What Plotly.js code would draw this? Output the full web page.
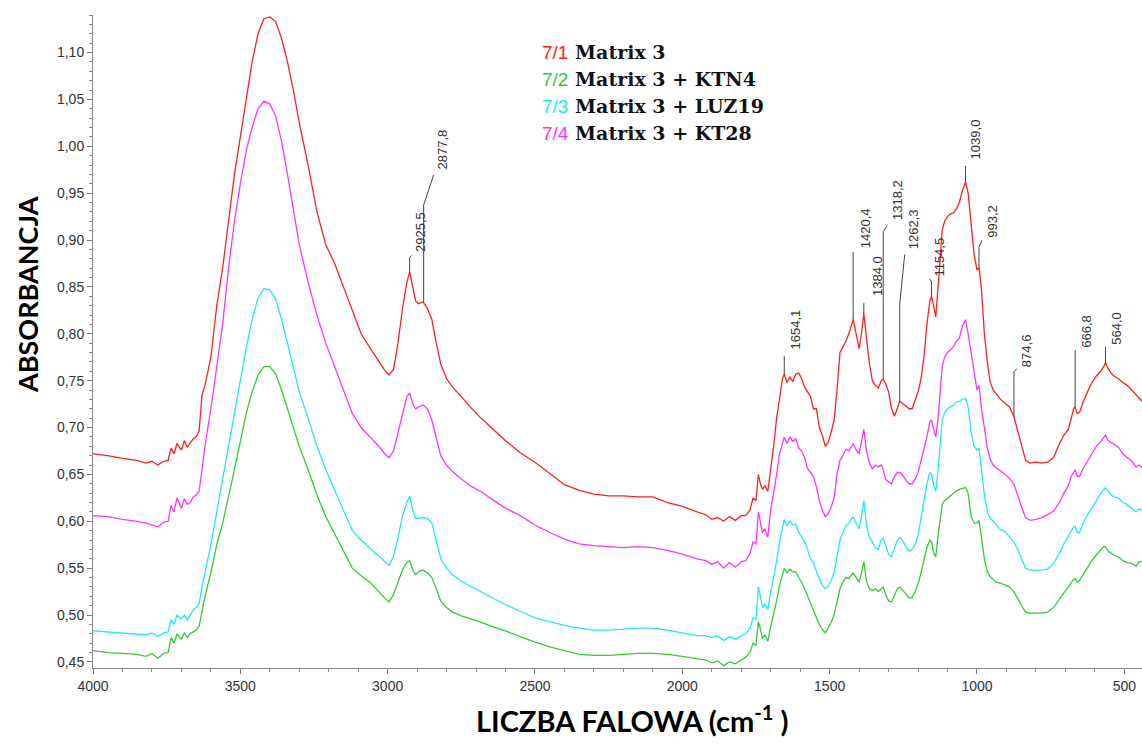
<!DOCTYPE html>
<html><head><meta charset="utf-8">
<script src="https://cdn.plot.ly/plotly-3.0.1.min.js"></script>
<style>html,body{margin:0;padding:0;background:#fff}#chart{width:1142px;height:744px}</style>
</head><body><div id="chart"></div>
<script>
// ---- data (wavenumber in cm-1, absorbance) ----
const wavenumber = [4000,3950,3900,3850,3820,3800,3780,3760,3745,3735,
3725,3715,3700,3690,3680,3670,3660,3650,3640,3630,
3620,3600,3580,3560,3540,3520,3500,3480,3460,3440,
3420,3400,3380,3360,3340,3320,3300,3270,3240,3210,
3180,3150,3120,3090,3060,3030,3010,2995,2980,2965,
2950,2935,2925,2915,2905,2895,2880,2865,2850,2835,
2820,2800,2780,2750,2720,2680,2640,2600,2550,2500,
2450,2400,2350,2300,2250,2200,2150,2100,2050,2000,
1950,1920,1900,1880,1860,1840,1820,1800,1785,1770,
1760,1750,1742,1735,1728,1720,1710,1700,1690,1680,
1670,1660,1654,1645,1635,1625,1615,1605,1595,1585,
1575,1565,1555,1545,1535,1525,1515,1505,1495,1485,
1475,1465,1455,1445,1435,1420,1410,1400,1392,1384,
1375,1365,1355,1345,1335,1325,1318,1310,1300,1290,
1280,1270,1262,1250,1240,1230,1220,1210,1200,1190,
1180,1170,1160,1154,1147,1140,1132,1125,1118,1110,
1100,1090,1080,1070,1060,1050,1039,1030,1020,1010,
1000,993,985,975,965,955,945,935,920,905,
890,875,865,855,845,835,820,800,780,760,
740,720,705,690,680,672,667,660,652,640,
625,610,595,580,570,564,555,545,535,520,
505,490,475,460,450,440];

// 7/1 Matrix 3
const absMatrix3 = [0.672,0.670,0.667,0.665,0.662,0.664,0.660,0.664,0.665,0.678,
0.672,0.683,0.676,0.686,0.679,0.684,0.688,0.690,0.696,0.735,
0.745,0.775,0.830,0.870,0.920,0.970,1.010,1.050,1.090,1.120,
1.136,1.138,1.133,1.115,1.090,1.060,1.025,0.980,0.930,0.895,
0.875,0.850,0.825,0.800,0.785,0.770,0.761,0.756,0.762,0.790,
0.826,0.855,0.866,0.850,0.835,0.832,0.834,0.827,0.815,0.790,
0.768,0.752,0.743,0.733,0.722,0.709,0.697,0.686,0.673,0.663,
0.651,0.639,0.633,0.629,0.627,0.627,0.626,0.626,0.620,0.616,
0.610,0.607,0.602,0.604,0.600,0.605,0.601,0.606,0.606,0.612,
0.625,0.622,0.650,0.640,0.634,0.638,0.632,0.655,0.680,0.710,
0.733,0.752,0.757,0.748,0.754,0.749,0.757,0.758,0.752,0.743,
0.738,0.733,0.720,0.720,0.700,0.692,0.680,0.684,0.695,0.708,
0.740,0.780,0.786,0.792,0.800,0.815,0.800,0.784,0.800,0.822,
0.795,0.768,0.750,0.745,0.742,0.750,0.751,0.747,0.738,0.720,
0.712,0.720,0.728,0.725,0.722,0.720,0.720,0.728,0.738,0.752,
0.775,0.810,0.835,0.840,0.828,0.818,0.850,0.885,0.910,0.920,
0.925,0.928,0.929,0.933,0.940,0.952,0.962,0.950,0.920,0.885,
0.868,0.871,0.848,0.800,0.770,0.748,0.740,0.736,0.730,0.726,
0.722,0.712,0.700,0.688,0.675,0.665,0.662,0.663,0.662,0.663,
0.668,0.683,0.692,0.698,0.710,0.720,0.722,0.715,0.716,0.727,
0.738,0.748,0.755,0.760,0.765,0.769,0.763,0.758,0.755,0.752,
0.748,0.745,0.740,0.735,0.732,0.728];

// 7/2 Matrix 3 + KTN4
const absKTN4 = [0.462,0.460,0.459,0.458,0.456,0.459,0.454,0.459,0.460,0.476,
0.470,0.480,0.474,0.481,0.476,0.480,0.482,0.484,0.488,0.505,
0.520,0.545,0.575,0.598,0.625,0.655,0.685,0.715,0.738,0.756,
0.765,0.765,0.757,0.740,0.720,0.700,0.680,0.655,0.628,0.605,
0.587,0.568,0.550,0.542,0.535,0.525,0.518,0.514,0.522,0.535,
0.548,0.556,0.558,0.548,0.543,0.546,0.548,0.545,0.540,0.528,
0.515,0.508,0.503,0.499,0.496,0.492,0.487,0.483,0.477,0.471,
0.466,0.462,0.458,0.457,0.457,0.458,0.459,0.459,0.458,0.456,
0.453,0.452,0.449,0.451,0.446,0.450,0.448,0.452,0.455,0.460,
0.470,0.468,0.493,0.485,0.475,0.479,0.472,0.488,0.500,0.515,
0.532,0.545,0.550,0.545,0.549,0.546,0.546,0.540,0.535,0.528,
0.520,0.512,0.506,0.498,0.490,0.485,0.481,0.486,0.492,0.500,
0.515,0.528,0.535,0.540,0.539,0.545,0.540,0.535,0.545,0.557,
0.536,0.528,0.526,0.528,0.525,0.528,0.530,0.522,0.515,0.514,
0.522,0.528,0.530,0.526,0.522,0.518,0.519,0.525,0.533,0.545,
0.560,0.572,0.580,0.578,0.566,0.562,0.585,0.605,0.618,0.622,
0.625,0.627,0.630,0.632,0.634,0.635,0.636,0.630,0.605,0.598,
0.598,0.601,0.585,0.560,0.546,0.541,0.538,0.535,0.534,0.532,
0.530,0.525,0.520,0.514,0.508,0.503,0.502,0.502,0.502,0.503,
0.508,0.517,0.524,0.530,0.535,0.538,0.539,0.535,0.537,0.543,
0.551,0.558,0.564,0.570,0.573,0.573,0.568,0.566,0.564,0.562,
0.558,0.556,0.555,0.552,0.557,0.557];

// 7/3 Matrix 3 + LUZ19
const absLUZ19 = [0.483,0.482,0.481,0.480,0.479,0.481,0.477,0.481,0.482,0.495,
0.490,0.500,0.496,0.500,0.495,0.500,0.505,0.508,0.512,0.530,
0.545,0.575,0.610,0.645,0.680,0.715,0.750,0.785,0.815,0.838,
0.848,0.847,0.837,0.815,0.790,0.765,0.738,0.710,0.680,0.655,
0.633,0.612,0.590,0.580,0.572,0.563,0.557,0.553,0.563,0.582,
0.605,0.620,0.627,0.612,0.603,0.603,0.604,0.603,0.598,0.578,
0.560,0.550,0.543,0.536,0.531,0.525,0.518,0.511,0.504,0.497,
0.493,0.489,0.486,0.484,0.484,0.485,0.486,0.486,0.484,0.481,
0.478,0.478,0.476,0.478,0.473,0.477,0.474,0.478,0.480,0.486,
0.497,0.496,0.530,0.520,0.508,0.512,0.506,0.524,0.540,0.558,
0.578,0.595,0.602,0.595,0.600,0.596,0.597,0.588,0.583,0.578,
0.570,0.560,0.556,0.547,0.538,0.532,0.528,0.531,0.537,0.545,
0.565,0.580,0.588,0.595,0.598,0.605,0.598,0.592,0.605,0.622,
0.595,0.583,0.578,0.572,0.570,0.580,0.582,0.575,0.565,0.562,
0.572,0.580,0.583,0.578,0.572,0.568,0.570,0.575,0.585,0.602,
0.620,0.640,0.652,0.650,0.638,0.632,0.655,0.685,0.708,0.716,
0.720,0.722,0.724,0.727,0.728,0.730,0.731,0.722,0.695,0.680,
0.676,0.678,0.655,0.628,0.610,0.603,0.600,0.596,0.591,0.589,
0.583,0.578,0.572,0.565,0.557,0.550,0.548,0.548,0.548,0.549,
0.555,0.566,0.576,0.584,0.590,0.594,0.595,0.588,0.588,0.598,
0.607,0.614,0.622,0.630,0.634,0.636,0.632,0.628,0.626,0.625,
0.620,0.618,0.614,0.610,0.613,0.612];

// 7/4 Matrix 3 + KT28
const absKT28 = [0.606,0.605,0.602,0.600,0.598,0.596,0.594,0.599,0.600,0.617,
0.610,0.625,0.614,0.624,0.618,0.620,0.626,0.628,0.632,0.655,
0.680,0.720,0.765,0.810,0.870,0.920,0.960,0.995,1.020,1.040,
1.048,1.045,1.032,1.005,0.970,0.930,0.895,0.855,0.820,0.790,
0.766,0.740,0.715,0.700,0.690,0.680,0.672,0.668,0.675,0.695,
0.715,0.733,0.737,0.725,0.720,0.722,0.724,0.720,0.708,0.688,
0.670,0.660,0.653,0.645,0.638,0.631,0.622,0.614,0.606,0.596,
0.588,0.581,0.576,0.574,0.573,0.572,0.573,0.572,0.569,0.565,
0.560,0.558,0.554,0.557,0.550,0.556,0.551,0.557,0.558,0.566,
0.578,0.576,0.610,0.598,0.588,0.592,0.583,0.612,0.630,0.650,
0.672,0.685,0.690,0.683,0.690,0.685,0.688,0.678,0.675,0.668,
0.656,0.652,0.648,0.637,0.622,0.612,0.605,0.608,0.615,0.625,
0.650,0.665,0.670,0.677,0.675,0.683,0.676,0.672,0.685,0.698,
0.675,0.662,0.656,0.660,0.658,0.660,0.655,0.645,0.642,0.640,
0.648,0.652,0.652,0.648,0.643,0.640,0.640,0.645,0.652,0.665,
0.675,0.690,0.706,0.708,0.698,0.690,0.710,0.740,0.765,0.775,
0.780,0.783,0.786,0.792,0.795,0.808,0.815,0.800,0.780,0.755,
0.740,0.745,0.720,0.700,0.678,0.666,0.660,0.657,0.654,0.650,
0.646,0.640,0.630,0.622,0.612,0.604,0.601,0.602,0.604,0.607,
0.611,0.620,0.630,0.638,0.648,0.652,0.655,0.648,0.648,0.656,
0.664,0.672,0.680,0.685,0.690,0.692,0.686,0.684,0.682,0.679,
0.672,0.668,0.664,0.658,0.660,0.657];

const seriesCodes = ['7/1', '7/2', '7/3', '7/4'];
const seriesNames = ['Matrix 3', 'Matrix 3 + KTN4', 'Matrix 3 + LUZ19', 'Matrix 3 + KT28'];
const xTickVals = [4000, 3500, 3000, 2500, 2000, 1500, 1000, 500];
const yTickVals = [0.45, 0.50, 0.55, 0.60, 0.65, 0.70, 0.75, 0.80, 0.85, 0.90, 0.95, 1.00, 1.05, 1.10];
const yTickText = ['0,45','0,50','0,55','0,60','0,65','0,70','0,75','0,80','0,85','0,90','0,95','1,00','1,05','1,10'];
const peakWavenumbers = [2925.5, 2877.8, 1654.1, 1420.4, 1384.0, 1318.2, 1262.3, 1154.5, 1039.0, 993.2, 874.6, 666.8, 564.0];
const peakLabels = ['2925,5', '2877,8', '1654,1', '1420,4', '1384,0', '1318,2', '1262,3', '1154,5', '1039,0', '993,2', '874,6', '666,8', '564,0'];
const xTitle = 'LICZBA FALOWA (cm<sup>-1</sup> )';
const yTitle = 'ABSORBANCJA';

// ---- styling / leader geometry (pixels) ----
const seriesColors = ['#ff2020', '#33cc33', '#22e8f5', '#ff33ff'];
const seriesData = [absMatrix3, absKTN4, absLUZ19, absKT28];
// [vertical length, horizontal kink, total height, text lift, text x-shift]
const leaderGeom = [
  [15, 2, 17, 18, 11],
  [98, 10, 128, 131, 19],
  [18, 0, 18, 23, 11],
  [68, 0, 68, 70, 12],
  [10, 0, 10, 15, 13],
  [148, 4, 154, 158, 14],
  [97, 5, 147, 150, 14],
  [15, -2, 18, 18, 8],
  [16, 0, 16, 20, 10],
  [20, 3, 27, 28, 14],
  [45, 3, 48, 48, 12],
  [57, 0, 57, 57, 11],
  [16, 0, 16, 16, 11]
];

function interp(xs, ys, x) {
  for (let i = 0; i < xs.length - 1; i++) {
    const a = xs[i], b = xs[i + 1];
    if ((x <= a && x >= b) || (x >= a && x <= b)) {
      const t = (x - a) / (b - a);
      return ys[i] + t * (ys[i + 1] - ys[i]);
    }
  }
  return ys[ys.length - 1];
}

const traces = seriesData.map((ys, i) => ({
  type: 'scatter', mode: 'lines', x: wavenumber, y: ys,
  name: seriesCodes[i] + ' ' + seriesNames[i],
  line: {color: seriesColors[i], width: 1.3},
  showlegend: false, hoverinfo: 'skip'
}));

const shapes = [];
const annotations = [];
peakWavenumbers.forEach((wn, i) => {
  const yv = interp(wavenumber, absMatrix3, wn);
  const g = leaderGeom[i];
  shapes.push({
    type: 'path', xref: 'x', yref: 'y', xsizemode: 'pixel', ysizemode: 'pixel',
    xanchor: wn, yanchor: yv,
    path: 'M0,0 L0,' + g[0] + ' L' + g[1] + ',' + g[2],
    line: {color: '#444', width: 1}
  });
  annotations.push({
    x: wn, y: yv, xref: 'x', yref: 'y', text: peakLabels[i], showarrow: false,
    textangle: -90, xanchor: 'center', yanchor: 'bottom', yshift: g[3], xshift: g[4],
    font: {family: 'Liberation Sans, Arial, sans-serif', size: 13, color: '#333'}
  });
});

// legend block (text only, coloured codes)
const plotTop = 15, plotH = 653, plotL = 93, plotW = 1049;
seriesCodes.forEach((code, i) => {
  const py = 52 + i * 27;
  annotations.push({
    xref: 'paper', yref: 'paper', x: (540 - plotL) / plotW, y: 1 - (py - plotTop) / plotH,
    xanchor: 'left', yanchor: 'middle', showarrow: false,
    text: '<span style="color:' + seriesColors[i] + ';font-family:Liberation Sans,Arial,sans-serif;font-weight:normal">' + code + '</span> ' + seriesNames[i],
    font: {family: 'DejaVu Serif, serif', size: 19, color: '#111', weight: 'bold'}
  });
});

// axis titles
annotations.push({
  xref: 'paper', yref: 'paper', x: (28 - plotL) / plotW, y: 1 - (295 - plotTop) / plotH,
  xanchor: 'center', yanchor: 'middle', showarrow: false, textangle: -90,
  text: yTitle,
  font: {family: 'Lato, sans-serif', size: 27, color: '#000', weight: 'bold'}
});
annotations.push({
  xref: 'paper', yref: 'paper', x: (632 - plotL) / plotW, y: 1 - (719 - plotTop) / plotH,
  xanchor: 'center', yanchor: 'middle', showarrow: false,
  text: xTitle,
  font: {family: 'Lato, sans-serif', size: 29, color: '#000', weight: 'bold'}
});

const layout = {
  width: 1142, height: 744,
  margin: {l: plotL, r: 0, t: plotTop, b: 76},
  paper_bgcolor: '#fff', plot_bgcolor: '#fff',
  separators: ',.',
  xaxis: {
    range: [4000, 440], tickvals: xTickVals, ticktext: xTickVals.map(String),
    ticks: 'outside', ticklen: 5, tickcolor: '#777', tickwidth: 1,
    minor: {dtick: 100, tick0: 0, ticks: 'outside', ticklen: 3, tickcolor: '#888'},
    showline: true, linecolor: '#888', linewidth: 1, showgrid: false, zeroline: false,
    tickfont: {family: 'Liberation Sans, Arial, sans-serif', size: 14, color: '#333'}
  },
  yaxis: {
    range: [0.4435, 1.14], tickvals: yTickVals, ticktext: yTickText,
    ticks: 'outside', ticklen: 5, tickcolor: '#777', tickwidth: 1,
    minor: {dtick: 0.01, tick0: 0, ticks: 'outside', ticklen: 3, tickcolor: '#888'},
    showline: true, linecolor: '#888', linewidth: 1, showgrid: false, zeroline: false,
    tickfont: {family: 'Liberation Sans, Arial, sans-serif', size: 14, color: '#333'}
  },
  shapes: shapes,
  annotations: annotations
};

Plotly.newPlot('chart', traces, layout, {displayModeBar: false, staticPlot: true});
</script>
</body></html>
